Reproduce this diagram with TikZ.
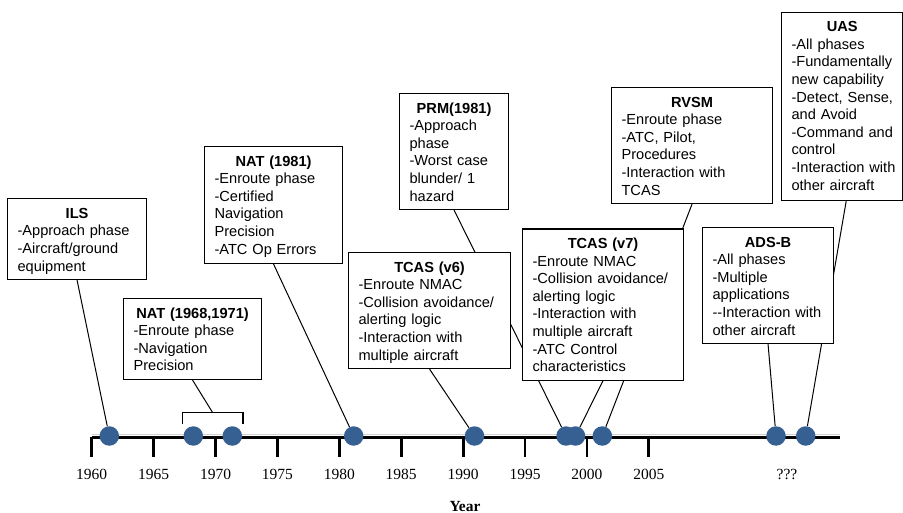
\documentclass[tikz,border=0pt]{standalone}
\usepackage{fontspec}
\setmainfont{Liberation Sans}
\newfontfamily\serifyr{Liberation Serif}
\usetikzlibrary{calc}
\pgfdeclarelayer{background}
\pgfsetlayers{background,main}
\definecolor{circblue}{RGB}{54,96,146}
\newcommand{\ttl}[1]{\makebox[\linewidth]{\bfseries #1}}
\begin{document}
\begin{tikzpicture}[x=1pt,y=-1pt,
  box/.style={draw=black, line width=1.1pt, fill=white, inner xsep=10pt, inner ysep=0pt,
    align=left, anchor=north west, text height=19.5pt,
    font=\fontsize{14.6}{17.6}\selectfont,
    execute at begin node={\exhyphenpenalty=10000\relax\hyphenpenalty=10000\relax}},
  dot/.style={circle, fill=circblue, minimum size=19.5pt, inner sep=0pt},
  conn/.style={draw=black, line width=1pt},
  yr/.style={font=\serifyr\fontsize{15.5}{17}\selectfont, inner sep=0pt},
  axisline/.style={line width=3pt, draw=black},
  ticktk/.style={line width=2.8pt, draw=black}]
\useasboundingbox (0,0) rectangle (903,513);

% boxes: name, x1, y1, width, height, text
\newcommand{\mybox}[6]{%
  \pgfmathsetmacro{\bxtw}{#4-20}%
  \pgfmathsetmacro{\bxdp}{#5-19.5}%
  \node[box, text width=\bxtw pt, minimum width=#4pt, text depth=\bxdp pt] (#1) at (#2,#3) {#6};}

\mybox{ils}{7}{198.3}{139}{80.7}{\ttl{ILS}\\-Approach phase\\-Aircraft/ground\\equipment}
\mybox{nat68}{123}{298}{138}{81}{\ttl{NAT (1968,1971)}\\-Enroute phase\\-Navigation\\Precision}
\mybox{nat81}{204}{146}{138}{117}{\ttl{NAT (1981)}\\-Enroute phase\\-Certified\\Navigation\\Precision\\-ATC Op Errors}
\mybox{prm}{399}{93}{109}{116}{\ttl{PRM(1981)}\\-Approach\\phase\\-Worst case\\blunder/ 1\\hazard}
\mybox{v6}{348}{252}{162}{116}{\ttl{TCAS (v6)}\\-Enroute NMAC\\-Collision avoidance/\\alerting logic\\-Interaction with\\multiple aircraft}
\mybox{v7}{522}{228.5}{161}{151}{\ttl{TCAS (v7)}\\-Enroute NMAC\\-Collision avoidance/\\alerting logic\\-Interaction with\\multiple aircraft\\-ATC Control\\characteristics}
\mybox{rvsm}{611}{87}{161}{116}{\ttl{RVSM}\\-Enroute phase\\-ATC, Pilot,\\Procedures\\-Interaction with\\TCAS}
\mybox{adsb}{702}{227}{131}{116}{\ttl{ADS-B}\\-All phases\\-Multiple\\applications\\-{}-Interaction~with\\other aircraft}
\mybox{uas}{781}{11.7}{121.3}{188.3}{\ttl{UAS}\\-All phases\\-Fundamentally\\new~capability\\-Detect,~Sense,\\and~Avoid\\-Command~and\\control\\-Interaction~with\\other~aircraft}

% axis
\begin{pgfonlayer}{background}
  \draw[gray!35, line width=1.5pt] (91.7,434.6) -- (840,434.6);
\end{pgfonlayer}
\draw[axisline] (91.7,437) -- (840,437);
\foreach \y [count=\i from 0] in {1960,1965,1970,1975,1980,1985,1990,1995,2000,2005} {
  \draw[ticktk] ({91.7+61.9*\i},437) -- ({91.7+61.9*\i},457);
  \node[yr] (lab\y) at ({91.7+61.9*\i},474) {\y};
}
\node[yr] (labq) at (787,474) {???};
\node[yr, font=\serifyr\bfseries\fontsize{15.5}{17}\selectfont] (year) at (465,506) {Year};

% bracket
\draw[line width=1.1pt] (182.7,424) -- (182.7,412.7) -- (243,412.7) -- (243,424);
\coordinate (br) at (212.7,412.7);

% dots
\node[dot] (c61) at (109.3,436) {};
\node[dot] (c68) at (193.3,436) {};
\node[dot] (c71) at (232.3,436) {};
\node[dot] (c81) at (353.7,436) {};
\node[dot] (c91) at (474.5,436) {};
\node[dot] (c98) at (566,436) {};
\node[dot] (c99) at (575.5,436) {};
\node[dot] (c01) at (602.3,436) {};
\node[dot] (cads) at (776,436) {};
\node[dot] (cuas) at (805.7,436) {};

% connectors
\begin{pgfonlayer}{background}
  \draw[conn] (ils.south) -- (c61);
  \draw[conn] (nat68.south) -- (br);
  \draw[conn] (nat81.south) -- (c81);
  \draw[conn] (prm.south) -- (c98);
  \draw[conn] (v6.south) -- (c91);
  \draw[conn] (v7.south) -- (c99);
  \draw[conn] (rvsm.south) -- (c01);
  \draw[conn] (adsb.south) -- (cads);
  \draw[conn] ([xshift=4pt]uas.south) -- (cuas);
\end{pgfonlayer}
\end{tikzpicture}
\end{document}
